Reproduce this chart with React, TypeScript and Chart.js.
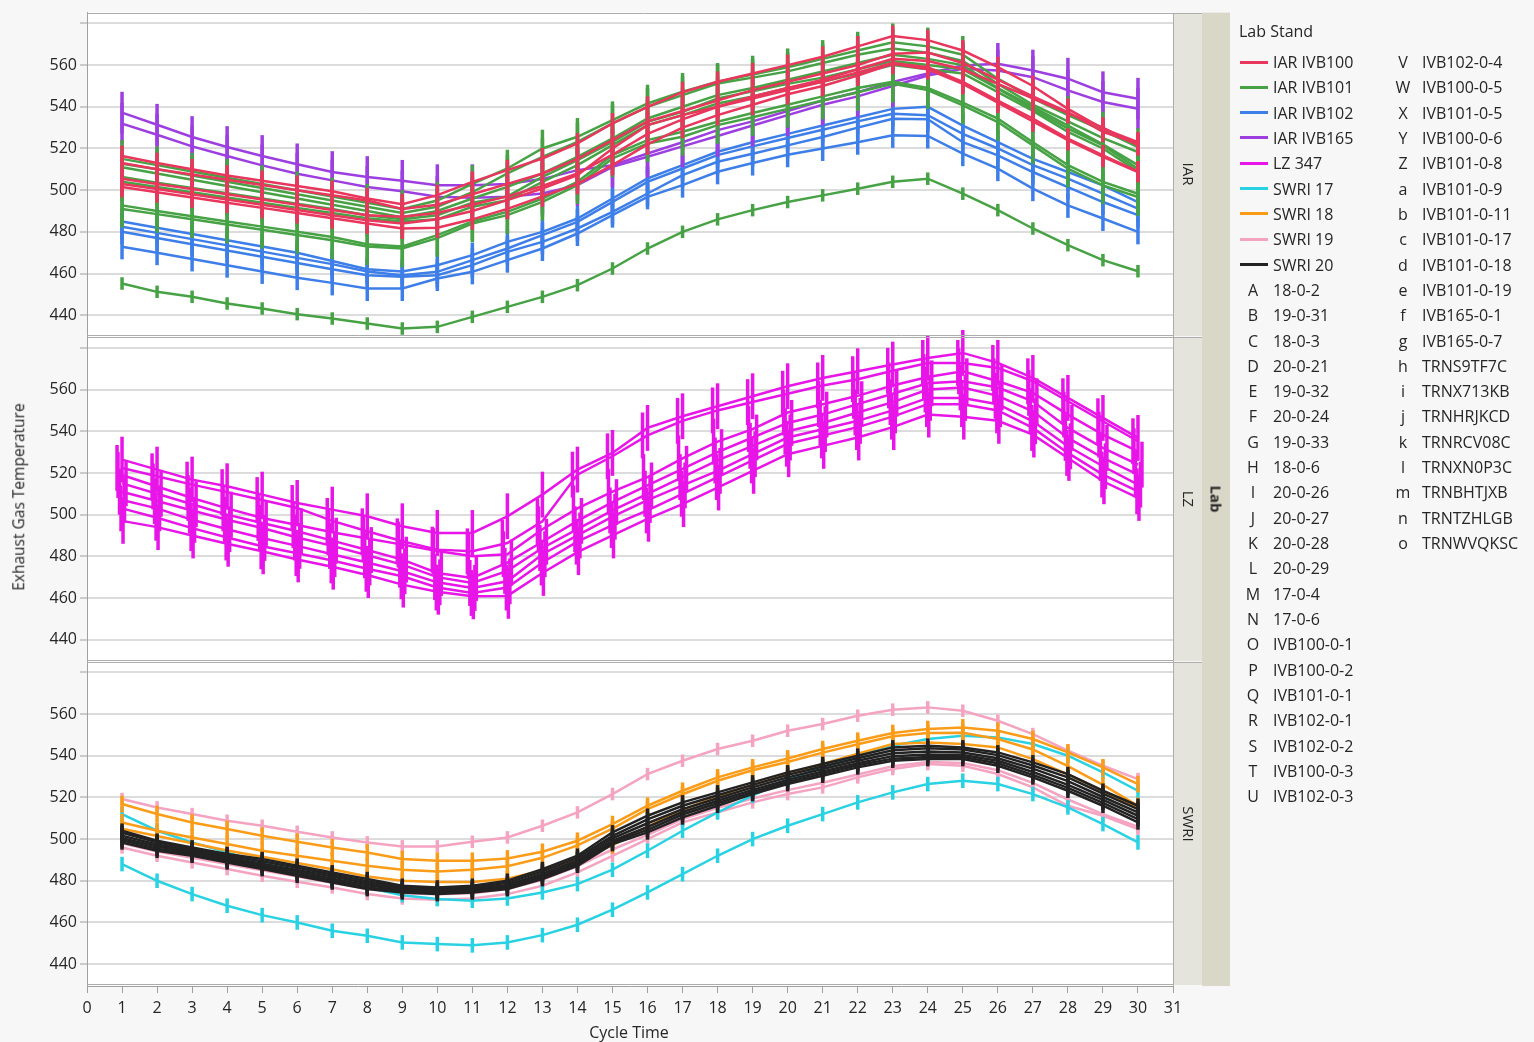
import React, { useEffect, useRef } from 'react';
import { Chart, registerables } from 'chart.js';

Chart.register(...registerables);

// ---------------- data ----------------
const CYCLES = [1, 2, 3, 4, 5, 6, 7, 8, 9, 10, 11, 12, 13, 14, 15, 16, 17, 18, 19, 20, 21, 22, 23, 24, 25, 26, 27, 28, 29, 30];
const X_TICKS = [0, 1, 2, 3, 4, 5, 6, 7, 8, 9, 10, 11, 12, 13, 14, 15, 16, 17, 18, 19, 20, 21, 22, 23, 24, 25, 26, 27, 28, 29, 30, 31];
const Y_TICKS = [440, 460, 480, 500, 520, 540, 560, 580];
const Y_TICK_LABELS = ['440', '460', '480', '500', '520', '540', '560', ''];
const Y_MIN = 429.5;
const Y_MAX = 585.2;
const PANELS = ['IAR', 'LZ', 'SWRI'];

const STANDS = ['IAR IVB100', 'IAR IVB101', 'IAR IVB102', 'IAR IVB165', 'LZ 347', 'SWRI 17', 'SWRI 18', 'SWRI 19', 'SWRI 20'];
const STAND_PANEL = ['IAR', 'IAR', 'IAR', 'IAR', 'LZ', 'SWRI', 'SWRI', 'SWRI', 'SWRI'];
const STAND_COLORS = ['#e8365d', '#46a244', '#3d7ee8', '#9d3fe0', '#e815e8', '#28d2e2', '#fb9c18', '#f4a3c1', '#222222'];

const MARKER_LETTERS = ['A', 'B', 'C', 'D', 'E', 'F', 'G', 'H', 'I', 'J', 'K', 'L', 'M', 'N', 'O', 'P', 'Q', 'R', 'S', 'T', 'U', 'V', 'W', 'X', 'Y', 'Z', 'a', 'b', 'c', 'd', 'e', 'f', 'g', 'h', 'i', 'j', 'k', 'l', 'm', 'n', 'o'];
const MARKER_TESTS = ['18-0-2', '19-0-31', '18-0-3', '20-0-21', '19-0-32', '20-0-24', '19-0-33', '18-0-6', '20-0-26', '20-0-27', '20-0-28', '20-0-29', '17-0-4', '17-0-6', 'IVB100-0-1', 'IVB100-0-2', 'IVB101-0-1', 'IVB102-0-1', 'IVB102-0-2', 'IVB100-0-3', 'IVB102-0-3', 'IVB102-0-4', 'IVB100-0-5', 'IVB101-0-5', 'IVB100-0-6', 'IVB101-0-8', 'IVB101-0-9', 'IVB101-0-11', 'IVB101-0-17', 'IVB101-0-18', 'IVB101-0-19', 'IVB165-0-1', 'IVB165-0-7', 'TRNS9TF7C', 'TRNX713KB', 'TRNHRJKCD', 'TRNRCV08C', 'TRNXN0P3C', 'TRNBHTJXB', 'TRNTZHLGB', 'TRNWVQKSC'];

// IAR IVB100 (red)
const IVB100_O = [516.4, 513, 510, 507, 504.5, 502, 499.5, 496, 493.3, 497.6, 504, 509.6, 515.2, 522.4, 532, 540, 547, 552, 556, 560, 564, 569, 574, 572, 567, 559, 550, 539, 529.5, 523];
const IVB100_P = [513, 510, 507.5, 505, 502.5, 500, 497.5, 495, 491, 493, 498, 503, 508, 515, 524, 533, 538, 543, 548, 552, 556, 560, 565.4, 566, 561, 553, 545, 537.5, 528, 522.3];
const IVB100_T = [505.5, 503, 500.5, 498, 495.5, 493, 490.5, 488, 487.2, 489, 493, 497, 502, 508, 517, 527, 534, 540, 545, 549, 553, 558, 563, 562, 558, 551, 544, 537, 530, 521.5];
const IVB100_W = [503, 500.5, 498, 495.5, 493, 490.5, 488, 485.5, 484, 486, 490, 495.2, 500.8, 507.2, 520, 531.2, 536, 540, 544, 548, 552, 556.5, 561, 559, 552, 543, 534.3, 524.7, 516.7, 509];
const IVB100_Y = [501.5, 499, 496.5, 494, 491.5, 489, 486.5, 484, 481.6, 482, 486, 491, 497, 503, 512, 522, 530, 536, 541, 546, 550, 555, 560.6, 558, 551, 542, 533, 524, 516, 508.7];
// IAR IVB101 (green)
const IVB101_Q = [515, 512, 509, 506, 503, 500, 497, 494, 491, 495, 503, 510.4, 520, 525.6, 533.6, 541.6, 547.2, 552, 555.5, 559, 563, 567, 571, 569, 565, 553.5, 544, 536, 528.7, 520.7];
const IVB101_X = [512.7, 510, 507, 504, 501, 498, 495, 492, 489, 492, 499, 508, 516, 523.2, 532, 540, 545.6, 551.2, 554, 557, 561, 565, 568, 566, 562, 551, 541, 533, 525, 518.3];
const IVB101_Z = [511, 508, 505, 502, 499, 496, 493, 490, 487, 490, 496, 501.6, 508, 516, 524.8, 534.4, 540, 545.6, 549, 553, 557, 561, 565, 563, 560, 549, 540, 531, 522, 512];
const IVB101_a = [506.3, 503.5, 501, 498.5, 496, 493.5, 491, 488, 486, 488, 494, 497, 506.4, 514.4, 523.2, 532.8, 537.6, 544, 547.5, 551, 554, 558, 562, 560, 558, 548.7, 539, 529.5, 521.5, 510.3];
const IVB101_b = [504, 501.5, 499, 496.5, 494, 491.5, 489, 486.5, 485, 486, 492, 495.2, 504, 512, 521.6, 531.2, 536, 541.6, 545, 549, 552, 556, 560, 558, 556, 547, 538, 528, 520, 509];
const IVB101_c = [492.7, 490, 487.5, 485, 482.5, 480, 477.5, 474, 473, 478.4, 485, 489.6, 496, 504, 516.8, 524, 528, 532.8, 537, 541, 545, 549, 552, 549, 542, 534.3, 523, 512, 504, 498.3];
const IVB101_d = [491, 488.5, 486, 483.5, 481, 478.5, 476, 473, 472, 477, 484, 488, 494.4, 502.4, 515.2, 522.4, 525.6, 531.2, 535, 539, 543, 547, 551, 548, 540.7, 532.7, 521.5, 510.3, 502.3, 496.7];
const IVB101_e = [455.2, 451.2, 448.8, 445.6, 443.2, 440.5, 438.4, 436, 433.6, 434.4, 439.2, 444, 448.8, 454.4, 462.4, 472, 480, 486, 490.4, 494.3, 497.5, 500.7, 504, 505.5, 498.3, 490.4, 481.6, 473.6, 466.4, 461.1];
// IAR IVB102 (blue)
const IVB102_R = [485, 482, 479, 476, 473, 470, 466, 462, 461, 464, 468.8, 475.2, 480, 486.4, 496, 505.6, 512, 518.4, 523, 527, 531, 535, 539, 540, 531, 523, 515, 508.7, 502.3, 494.3];
const IVB102_S = [482.4, 479.5, 476.5, 473.5, 470.5, 467.5, 464.5, 461, 459.2, 460.8, 466.4, 472, 478.4, 484.8, 494.4, 504, 510.4, 516.8, 521, 525, 529, 533, 536.7, 536, 527, 520, 512, 505.5, 498.3, 491.1];
const IVB102_U = [480, 477, 474, 471, 468, 465, 462, 459.2, 458.4, 459.2, 464, 470.4, 475.2, 481.6, 489.6, 498.4, 507.2, 513.6, 517.5, 521.5, 525.5, 530, 534.3, 534, 523, 516.7, 508.7, 501.5, 494.3, 488];
const IVB102_V = [472.8, 470, 467, 464, 461, 458, 455.5, 452.8, 452.8, 457.6, 460.8, 466.4, 472, 479.2, 488, 496.8, 502.4, 508.8, 513, 517, 520, 523, 526.3, 526, 517.5, 510.3, 500.7, 492.7, 486.4, 480];
// IAR IVB165 (purple)
const IVB165_f = [537.2, 531.4, 525.5, 520.7, 516.4, 512.4, 508.7, 506.3, 504.5, 502.4, 502.4, 503, 505.3, 509.6, 512, 517.6, 523, 528.8, 533, 538, 543, 547, 551.9, 556, 559.8, 560.6, 557.4, 553.5, 547, 543.9];
const IVB165_g = [531.9, 526.6, 521, 516.4, 511.9, 507.9, 504.7, 501.5, 499.5, 496.8, 496.3, 496.8, 498.4, 502.4, 511.2, 516, 521, 526, 531, 536, 541, 545, 550, 555, 558.2, 557.4, 554.2, 547.9, 542.3, 539.1];
// LZ 347 (magenta)
const LZ_h = [526.4, 521.6, 516.8, 513.6, 509.6, 505.6, 502.4, 499.2, 494.4, 491.2, 491.2, 499.2, 509.6, 521.6, 529.6, 541.6, 547.2, 552, 556.8, 561.6, 565.6, 568.8, 572, 575.2, 577.6, 572.8, 565.6, 556, 546.4, 536.8];
const LZ_i = [522.4, 518.4, 514.4, 510.8, 507, 503.2, 497, 492, 487.2, 483.2, 482.4, 486.4, 496.8, 519.2, 528, 538, 545, 550, 554, 558, 562, 565, 569, 572.8, 572.8, 570.4, 564, 554.4, 544.8, 535.2];
const LZ_j = [519, 513.5, 508, 503, 498.4, 495, 491.5, 488.5, 485.6, 482.5, 480, 481, 493, 503, 511, 518, 527, 535, 541, 549, 553, 557, 562, 566, 568.8, 564, 558.4, 548, 538.4, 530.4];
const LZ_k = [515, 510, 505, 500, 496, 492, 487.5, 483, 478.4, 472, 469.6, 477, 487, 497, 506, 514, 522, 530, 537, 544, 548, 553, 558, 563, 564, 561, 554.4, 541.6, 532, 524];
const LZ_l = [511, 506.5, 502, 497.5, 493.6, 489, 485, 480.5, 476, 470, 467.2, 473, 484, 493, 502, 510, 518, 526, 533, 540, 544, 549, 554, 560, 561, 557, 549.6, 536.8, 527.2, 519.2];
const LZ_m = [507, 503, 497.5, 493, 488.8, 485, 481, 477, 472.8, 467.5, 464.8, 468, 481, 490, 499, 507, 514, 521, 529, 537, 541, 545, 550, 556, 556, 553, 544.8, 532.8, 523.2, 514.4];
const LZ_n = [503, 498.5, 493.5, 489, 484.8, 481.5, 478, 474, 470.4, 465, 462.4, 465, 477, 487, 495, 502, 510, 518, 526, 534, 538, 542, 547, 553, 553, 550, 541.6, 529.6, 519.2, 511.2];
const LZ_o = [497, 494, 490, 486, 482.4, 478.5, 475, 471, 466.4, 463, 460.8, 461, 472, 482, 490, 498, 505, 513, 521, 529, 533, 537, 542, 548, 547, 545, 538.4, 527.2, 516, 508];
// SWRI 17 (cyan)
const SWRI17_M = [512, 504, 498.4, 493.6, 488.5, 484.8, 480.8, 476.8, 473.1, 471.2, 470.4, 471.5, 474.4, 478.4, 485.3, 494.4, 504, 512.8, 520.8, 528.8, 534.4, 540, 544.8, 548, 549.6, 548.8, 545.6, 540, 532, 523.2];
const SWRI17_N = [488, 480, 473.6, 468, 463.5, 460, 456, 453.6, 450.4, 449.6, 449, 450.4, 453.9, 458.9, 466.1, 474.4, 483.2, 492, 500, 506.4, 512, 517.6, 522.4, 526.4, 528, 526.4, 521.6, 515.2, 507.2, 498.4];
// SWRI 18 (orange)
const SWRI18_A = [516.8, 512, 508, 504.8, 501.6, 498.7, 496, 493.6, 490.4, 489.6, 489.6, 490.7, 493.9, 499.2, 507.2, 516, 523.2, 529.6, 534.4, 538.7, 543.2, 547.2, 550.9, 552.8, 553.6, 552, 548, 541.6, 534.4, 526.4];
const SWRI18_C = [508, 504, 500.8, 497.6, 494.4, 492, 489.6, 487.2, 485.3, 484.5, 485.3, 487, 491, 497, 505, 514.4, 521.5, 528, 533, 537, 541.5, 545.5, 549.3, 550.9, 551, 548, 543, 535, 526, 516];
const SWRI18_H = [505, 501.5, 498, 494.5, 491.5, 488.5, 485.5, 482, 480, 479.4, 479.4, 481, 485, 490, 497, 506, 514, 520.5, 526, 531, 536, 541, 545.6, 546.4, 545.6, 544, 538.4, 531, 523, 515.2];
// SWRI 19 (pink)
const SWRI19_B = [519.2, 515.2, 512, 508.8, 506.4, 503.5, 500.8, 498.4, 496.5, 496.5, 498.7, 500.8, 506.4, 512.8, 521.6, 531.2, 537.6, 543.2, 547.2, 552, 555.2, 559.2, 562.1, 563.2, 561.6, 556.8, 550.4, 542.4, 535.2, 528.8];
const SWRI19_E = [498, 494, 491, 488, 485, 482, 479, 476, 474, 473.5, 474, 476, 480.5, 487, 495, 502, 509.6, 515, 519.5, 523.5, 527, 531, 535, 537, 536.5, 533, 527, 519, 512, 506];
const SWRI19_G = [496, 492, 488.8, 485.6, 482.4, 479.5, 476.8, 473.6, 471.5, 470.9, 471.5, 473.6, 477.6, 484, 492, 500, 508, 512.8, 517.6, 521.6, 524.8, 529.6, 533.6, 536, 535.2, 531.2, 524.8, 516, 511.2, 504.8];
// SWRI 20 (black)
const SWRI20_D = [504, 499.2, 496, 492.8, 490.4, 487.2, 484, 480.8, 477.6, 476.8, 477.6, 480, 485.6, 492, 503.2, 511.2, 517.6, 522.4, 527.2, 532, 536, 540, 544, 544.8, 544, 541.6, 536.8, 531.2, 523.2, 516];
const SWRI20_F = [503, 498.5, 495.2, 492, 489.4, 486.2, 483, 479.8, 477, 476, 476.8, 479, 484.5, 491, 501.5, 509.5, 516, 521, 526, 530.8, 534.8, 538.8, 542.6, 543.6, 543, 540.3, 535.3, 529.6, 521.8, 514.4];
const SWRI20_I = [501.6, 497.4, 494.4, 491.2, 488.2, 485.2, 482, 478.8, 476.2, 475.2, 476, 478, 483.4, 489.8, 500.4, 507.6, 514.4, 519.6, 524.8, 529.6, 533.6, 537.6, 541.2, 542, 541.6, 538.8, 533.8, 527.8, 520.2, 512.8];
const SWRI20_J = [500.4, 496.4, 493.6, 490.4, 487.2, 484.2, 481, 477.8, 475.6, 474.8, 475.4, 477.4, 482.4, 488.8, 499.2, 505.8, 513, 518.4, 523.6, 528.4, 532.4, 536.4, 539.8, 540.6, 540.4, 537.6, 532.2, 526, 518.8, 511.2];
const SWRI20_K = [499.4, 495.4, 492.8, 489.6, 486.4, 483.2, 480, 476.8, 475, 474.2, 474.8, 476.6, 481.6, 488, 498.4, 504.4, 511.8, 517.2, 522.6, 527.4, 531.4, 535.4, 538.6, 539.4, 539.4, 536.4, 530.8, 524.6, 517.4, 509.6];
const SWRI20_L = [498.4, 494.4, 492, 488.8, 485.6, 482.4, 479.2, 476, 474.4, 473.6, 474.4, 476, 480.8, 487.2, 497.6, 503.2, 510.4, 516, 521.6, 526.4, 530.4, 534.4, 537.6, 538.4, 538.4, 535.2, 529.6, 523.2, 516, 508];

// stand index, marker letter, values, error half-width (first listed = drawn on top)
const SERIES = [
  { stand: 8, test: 'D', values: SWRI20_D, err: 3.5 },
  { stand: 8, test: 'F', values: SWRI20_F, err: 3.5 },
  { stand: 8, test: 'I', values: SWRI20_I, err: 3.5 },
  { stand: 8, test: 'J', values: SWRI20_J, err: 3.5 },
  { stand: 8, test: 'K', values: SWRI20_K, err: 3.5 },
  { stand: 8, test: 'L', values: SWRI20_L, err: 3.5 },
  { stand: 6, test: 'A', values: SWRI18_A, err: 4 },
  { stand: 6, test: 'C', values: SWRI18_C, err: 4 },
  { stand: 6, test: 'H', values: SWRI18_H, err: 4 },
  { stand: 5, test: 'M', values: SWRI17_M, err: 3.5 },
  { stand: 5, test: 'N', values: SWRI17_N, err: 3.5 },
  { stand: 7, test: 'B', values: SWRI19_B, err: 3 },
  { stand: 7, test: 'E', values: SWRI19_E, err: 3 },
  { stand: 7, test: 'G', values: SWRI19_G, err: 3 },
  { stand: 4, test: 'h', values: LZ_h, err: 11 },
  { stand: 4, test: 'i', values: LZ_i, err: 11 },
  { stand: 4, test: 'j', values: LZ_j, err: 11 },
  { stand: 4, test: 'k', values: LZ_k, err: 11 },
  { stand: 4, test: 'l', values: LZ_l, err: 11 },
  { stand: 4, test: 'm', values: LZ_m, err: 11 },
  { stand: 4, test: 'n', values: LZ_n, err: 11 },
  { stand: 4, test: 'o', values: LZ_o, err: 11 },
  { stand: 0, test: 'O', values: IVB100_O, err: 5 },
  { stand: 0, test: 'P', values: IVB100_P, err: 5 },
  { stand: 0, test: 'T', values: IVB100_T, err: 5 },
  { stand: 0, test: 'W', values: IVB100_W, err: 5 },
  { stand: 0, test: 'Y', values: IVB100_Y, err: 5 },
  { stand: 1, test: 'Q', values: IVB101_Q, err: 9 },
  { stand: 1, test: 'X', values: IVB101_X, err: 9 },
  { stand: 1, test: 'Z', values: IVB101_Z, err: 9 },
  { stand: 1, test: 'a', values: IVB101_a, err: 9 },
  { stand: 1, test: 'b', values: IVB101_b, err: 9 },
  { stand: 1, test: 'c', values: IVB101_c, err: 9 },
  { stand: 1, test: 'd', values: IVB101_d, err: 9 },
  { stand: 1, test: 'e', values: IVB101_e, err: 3 },
  { stand: 3, test: 'f', values: IVB165_f, err: 10 },
  { stand: 3, test: 'g', values: IVB165_g, err: 10 },
  { stand: 2, test: 'R', values: IVB102_R, err: 6 },
  { stand: 2, test: 'S', values: IVB102_S, err: 6 },
  { stand: 2, test: 'U', values: IVB102_U, err: 6 },
  { stand: 2, test: 'V', values: IVB102_V, err: 6 },
];

// ---------------- style ----------------
const FONT = '"Open Sans", "Noto Sans", sans-serif';
const TEXT_COLOR = '#262626';
const LZ_JITTER = [-4, 4, -2.5, 2.5, -1, 1, 0, -5];
const CANVAS_W = 1534;
const CANVAS_H = 1042;
const PLOT_LEFT = 87;
const PLOT_TOP = 11;
const PLOT_RIGHT = 1173;
const XAXIS_H = 56;
const STRIP_W = 28;

const errorBarPlugin = {
  id: 'errorBars',
  afterDatasetDraw(chart: any, args: any) {
    const ds: any = chart.data.datasets[args.index];
    const meta = args.meta;
    const ys = chart.scales[meta.yAxisID];
    const xs = chart.scales[meta.xAxisID];
    const ctx = chart.ctx;
    ctx.save();
    ctx.strokeStyle = ds.borderColor;
    ctx.lineWidth = ds.errWidth;
    ctx.lineCap = 'butt';
    ds.data.forEach((p: any) => {
      const x = xs.getPixelForValue(p.x) + ds.errOffset;
      ctx.beginPath();
      ctx.moveTo(x, ys.getPixelForValue(p.y - ds.errHalf));
      ctx.lineTo(x, ys.getPixelForValue(p.y + ds.errHalf));
      ctx.stroke();
    });
    ctx.restore();
  },
};

const panelPlugin = {
  id: 'panels',
  beforeDraw(chart: any) {
    const { ctx, chartArea: a } = chart;
    ctx.save();
    ctx.fillStyle = '#ffffff';
    ctx.fillRect(a.left, a.top, a.right - a.left, a.bottom - a.top);
    ctx.restore();
  },
  afterDraw(chart: any) {
    const { ctx, chartArea: a } = chart;
    ctx.save();
    ctx.strokeStyle = '#adadad';
    ctx.lineWidth = 1;
    PANELS.forEach((p) => {
      const s = chart.scales['y' + p];
      const top = Math.round(s.top);
      const bottom = Math.round(s.bottom);
      ctx.fillStyle = '#e5e4dc';
      ctx.fillRect(a.right + 1, top + 1, STRIP_W, bottom - top - 2);
      ctx.beginPath();
      ctx.moveTo(a.left, top + 0.5);
      ctx.lineTo(a.right + 1 + STRIP_W, top + 0.5);
      ctx.moveTo(a.left, bottom - 1.5);
      ctx.lineTo(a.right, bottom - 1.5);
      ctx.moveTo(a.right + 0.5, top);
      ctx.lineTo(a.right + 0.5, bottom);
      ctx.stroke();
    });
    ctx.fillStyle = '#d9d7c8';
    ctx.fillRect(a.right + 1 + STRIP_W, a.top, STRIP_W, a.bottom - a.top);
    ctx.restore();
  },
};

function yScale(weight: number) {
  return {
    type: 'linear',
    position: 'left',
    stack: 'panels',
    stackWeight: 1,
    weight,
    min: Y_MIN,
    max: Y_MAX,
    afterBuildTicks: (s: any) => {
      s.ticks = Y_TICKS.map((v) => ({ value: v }));
    },
    afterFit: (s: any) => {
      s.width = PLOT_LEFT;
    },
    ticks: {
      callback: (v: any) => {
        const k = Y_TICKS.indexOf(Number(v));
        return k >= 0 ? Y_TICK_LABELS[k] : '';
      },
      font: { size: 16, family: FONT },
      color: TEXT_COLOR,
      padding: 3,
    },
    grid: { color: '#dcdcdc', lineWidth: 2, tickLength: 7, tickColor: '#a0a0a0', tickWidth: 1 },
    border: { display: true, color: '#a0a0a0', width: 1 },
  };
}

export default function App() {
  const ref = useRef<HTMLCanvasElement>(null);

  useEffect(() => {
    const canvas = ref.current;
    if (!canvas) return;
    const datasets = SERIES.map((s, k) => {
      const panel = STAND_PANEL[s.stand];
      return {
        label: STANDS[s.stand] + ' ' + s.test,
        data: s.values.map((v, i) => ({ x: CYCLES[i], y: v })),
        xAxisID: 'x',
        yAxisID: 'y' + panel,
        borderColor: STAND_COLORS[s.stand],
        backgroundColor: STAND_COLORS[s.stand],
        borderWidth: 2.5,
        pointRadius: 0,
        pointHoverRadius: 0,
        tension: 0,
        fill: false,
        errHalf: s.err,
        errWidth: panel === 'LZ' ? 3.5 : 3.5,
        errOffset: panel === 'LZ' ? LZ_JITTER[k % LZ_JITTER.length] : 0,
      };
    });

    const chart = new Chart(canvas, {
      type: 'line',
      data: { datasets } as any,
      options: {
        responsive: false,
        maintainAspectRatio: false,
        animation: false,
        events: [],
        layout: { padding: { left: 0, top: PLOT_TOP, right: CANVAS_W - PLOT_RIGHT, bottom: 0 } },
        plugins: { legend: { display: false }, tooltip: { enabled: false }, title: { display: false } },
        scales: {
          x: {
            type: 'linear',
            position: 'bottom',
            min: 0,
            max: 31,
            afterBuildTicks: (s: any) => {
              s.ticks = X_TICKS.map((v) => ({ value: v }));
            },
            afterFit: (s: any) => {
              s.height = XAXIS_H;
            },
            ticks: { font: { size: 16, family: FONT }, color: TEXT_COLOR, padding: 6, maxRotation: 0, autoSkip: false },
            grid: { display: true, drawOnChartArea: false, drawTicks: true, tickLength: 7, tickColor: '#a0a0a0', color: '#a0a0a0' },
            border: { display: true, color: '#a0a0a0', width: 1 },
          },
          ySWRI: yScale(1),
          yLZ: yScale(2),
          yIAR: yScale(3),
        } as any,
      },
      plugins: [panelPlugin, errorBarPlugin],
    } as any);
    return () => chart.destroy();
  }, []);

  const panelCenters = [173.5, 498.5, 823.5];
  const rowY = (k: number) => 62 + k * 25.32;

  const rotated = (text: string, cx: number, cy: number, deg: number, size: number, bold = false) => (
    <div
      key={text}
      style={{
        position: 'absolute',
        left: cx,
        top: cy,
        transform: `translate(-50%, -50%) rotate(${deg}deg)`,
        whiteSpace: 'nowrap',
        fontSize: size,
        fontWeight: bold ? 700 : 400,
        color: TEXT_COLOR,
        lineHeight: 1,
      }}
    >
      {text}
    </div>
  );

  const legendItems: any[] = [];
  STANDS.forEach((name, k) => {
    legendItems.push(
      <div key={'s' + k} style={{ position: 'absolute', left: 1240, top: rowY(k) - 11, height: 22, display: 'flex', alignItems: 'center' }}>
        <div style={{ width: 28, height: 3, background: STAND_COLORS[k], marginRight: 5 }} />
        <span style={{ fontSize: 16, color: TEXT_COLOR, lineHeight: '22px' }}>{name}</span>
      </div>
    );
  });
  MARKER_LETTERS.forEach((letter, k) => {
    const inFirst = k < 21;
    const row = inFirst ? STANDS.length + k : k - 21;
    const letterX = inFirst ? 1253 : 1403;
    const textX = inFirst ? 1273 : 1422;
    legendItems.push(
      <div key={'m' + k} style={{ position: 'absolute', left: letterX - 10, top: rowY(row) - 11, width: 20, height: 22, textAlign: 'center', fontSize: 16, lineHeight: '22px', color: TEXT_COLOR }}>
        {letter}
      </div>
    );
    legendItems.push(
      <div key={'t' + k} style={{ position: 'absolute', left: textX, top: rowY(row) - 11, height: 22, fontSize: 16, lineHeight: '22px', color: TEXT_COLOR, whiteSpace: 'nowrap' }}>
        {MARKER_TESTS[k]}
      </div>
    );
  });

  return (
    <div
      style={{
        position: 'absolute',
        left: 0,
        top: 0,
        width: CANVAS_W,
        height: CANVAS_H,
        background: '#f7f7f7',
        fontFamily: FONT,
        overflow: 'hidden',
      }}
    >
      <canvas ref={ref} width={CANVAS_W} height={CANVAS_H} style={{ position: 'absolute', left: 0, top: 0 }} />
      {PANELS.map((p, k) => rotated(p, PLOT_RIGHT + 1 + STRIP_W / 2, panelCenters[k], 90, 15))}
      {rotated('Lab', PLOT_RIGHT + 1 + STRIP_W * 1.5, 498.5, 90, 15, true)}
      {rotated('Exhaust Gas Temperature', 19, 497, -90, 15.5)}
      <div style={{ position: 'absolute', left: 629, top: 1032, transform: 'translate(-50%, -50%)', fontSize: 16, color: TEXT_COLOR, whiteSpace: 'nowrap', lineHeight: 1 }}>
        Cycle Time
      </div>
      <div style={{ position: 'absolute', left: 1239, top: 20, fontSize: 16, color: TEXT_COLOR, lineHeight: '22px', whiteSpace: 'nowrap' }}>Lab Stand</div>
      {legendItems}
    </div>
  );
}
